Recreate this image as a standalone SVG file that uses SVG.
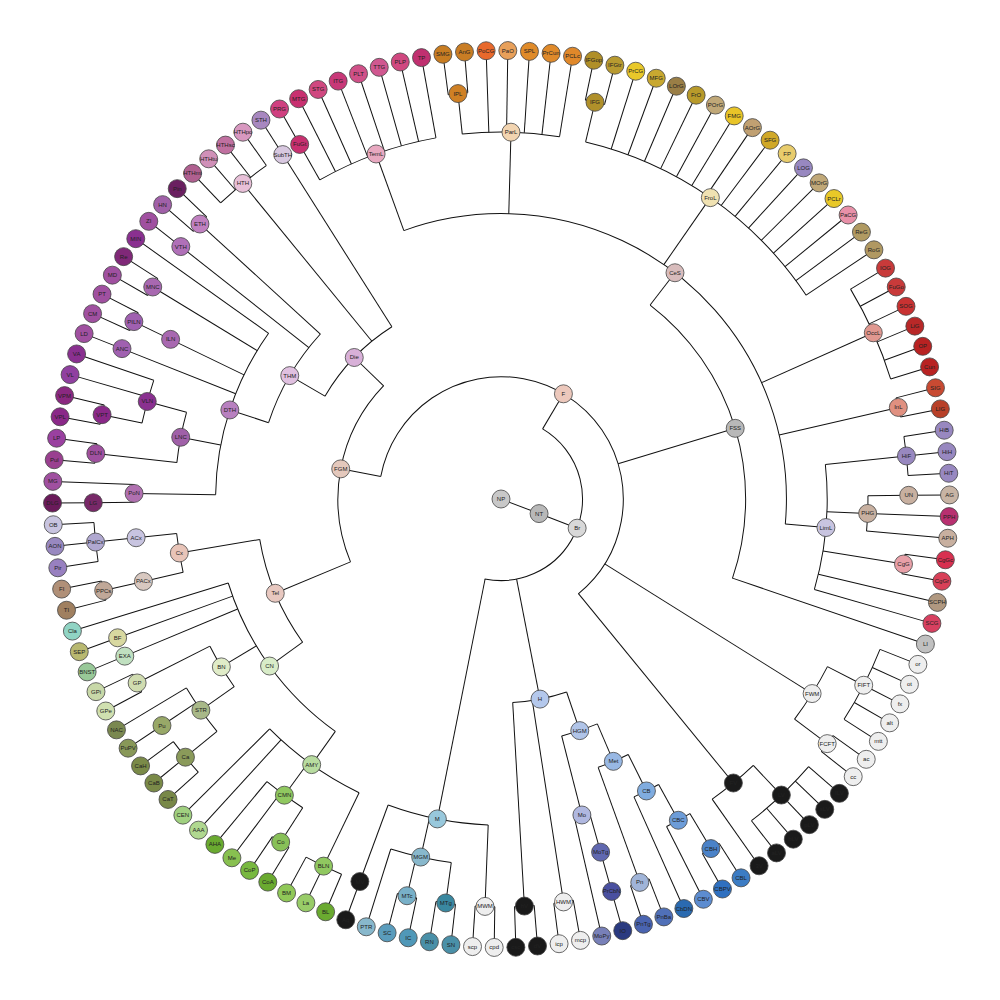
<svg xmlns="http://www.w3.org/2000/svg" width="1000" height="1000" viewBox="0 0 1000 1000">
<style>
.l line,.l circle{fill:none;stroke:#111;stroke-width:1}
.n circle{stroke:#444;stroke-width:0.8}
.n text{font-family:"Liberation Sans",Arial,sans-serif;font-size:6px;fill:#222;text-anchor:middle}
.k circle{fill:#1a1a1a}
.w circle{fill:#eeeeee}
</style>
<rect width="1000" height="1000" fill="#ffffff"/>
<g transform="translate(501,499)">
<g id="links" class="l">
<circle r="81.55" stroke-dasharray="228.53 3000" transform="rotate(-59.31)"/>
<circle r="122.32" stroke-dasharray="469.81 3000" transform="rotate(190.65)"/>
<circle r="163.09" stroke-dasharray="189.66 3000" transform="rotate(157.33)"/>
<circle r="244.64" stroke-dasharray="304.48 3000" transform="rotate(-52.44)"/>
<circle r="285.41" stroke-dasharray="572.46 3000" transform="rotate(-109.90)"/>
<circle r="244.64" stroke-dasharray="112.29 3000" transform="rotate(144.18)"/>
<circle r="203.86" stroke-dasharray="97.31 3000" transform="rotate(210.29)"/>
<circle r="203.86" stroke-dasharray="55.11 3000" transform="rotate(71.22)"/>
<circle r="326.18" stroke-dasharray="102.47 3000" transform="rotate(92.25)"/>
<circle r="244.64" stroke-dasharray="103.46 3000" transform="rotate(198.18)"/>
<circle r="285.41" stroke-dasharray="172.40 3000" transform="rotate(180.87)"/>
<circle r="285.41" stroke-dasharray="186.25 3000" transform="rotate(125.48)"/>
<circle r="244.64" stroke-dasharray="37.70 3000" transform="rotate(66.81)"/>
<circle r="285.41" stroke-dasharray="32.78 3000" transform="rotate(63.52)"/>
<circle r="366.95" stroke-dasharray="97.60 3000" transform="rotate(-96.06)"/>
<circle r="366.95" stroke-dasharray="274.88 3000" transform="rotate(-76.67)"/>
<circle r="366.95" stroke-dasharray="124.12 3000" transform="rotate(240.41)"/>
<circle r="366.95" stroke-dasharray="35.48 3000" transform="rotate(-0.52)"/>
<circle r="366.95" stroke-dasharray="62.06 3000" transform="rotate(27.18)"/>
<circle r="366.95" stroke-dasharray="53.22 3000" transform="rotate(46.56)"/>
<circle r="366.95" stroke-dasharray="44.38 3000" transform="rotate(122.71)"/>
<circle r="366.95" stroke-dasharray="53.22 3000" transform="rotate(140.71)"/>
<circle r="366.95" stroke-dasharray="44.38 3000" transform="rotate(191.94)"/>
<circle r="366.95" stroke-dasharray="26.64 3000" transform="rotate(59.02)"/>
<circle r="366.95" stroke-dasharray="62.06 3000" transform="rotate(97.79)"/>
<circle r="366.95" stroke-dasharray="17.74 3000" transform="rotate(179.48)"/>
<circle r="326.18" stroke-dasharray="126.15 3000" transform="rotate(-6.06)"/>
<circle r="326.18" stroke-dasharray="110.39 3000" transform="rotate(115.79)"/>
<circle r="326.18" stroke-dasharray="47.31 3000" transform="rotate(144.87)"/>
<circle r="326.18" stroke-dasharray="39.39 3000" transform="rotate(167.02)"/>
<circle r="326.18" stroke-dasharray="51.24 3000" transform="rotate(186.41)"/>
<circle r="326.18" stroke-dasharray="27.55 3000" transform="rotate(61.10)"/>
<circle r="326.18" stroke-dasharray="15.77 3000" transform="rotate(74.25)"/>
<circle r="407.73" stroke-dasharray="19.70 3000" transform="rotate(-97.44)"/>
<circle r="407.73" stroke-dasharray="19.70 3000" transform="rotate(-78.06)"/>
<circle r="407.73" stroke-dasharray="98.56 3000" transform="rotate(-30.98)"/>
<circle r="407.73" stroke-dasharray="19.70 3000" transform="rotate(-14.36)"/>
<circle r="407.73" stroke-dasharray="39.35 3000" transform="rotate(-8.82)"/>
<circle r="407.73" stroke-dasharray="19.70 3000" transform="rotate(7.79)"/>
<circle r="407.73" stroke-dasharray="78.78 3000" transform="rotate(21.64)"/>
<circle r="407.73" stroke-dasharray="19.70 3000" transform="rotate(35.48)"/>
<circle r="407.73" stroke-dasharray="78.85 3000" transform="rotate(41.02)"/>
<circle r="407.73" stroke-dasharray="39.42 3000" transform="rotate(113.02)"/>
<circle r="407.73" stroke-dasharray="19.70 3000" transform="rotate(121.33)"/>
<circle r="407.73" stroke-dasharray="39.42 3000" transform="rotate(137.94)"/>
<circle r="407.73" stroke-dasharray="19.70 3000" transform="rotate(151.79)"/>
<circle r="407.73" stroke-dasharray="19.70 3000" transform="rotate(165.64)"/>
<circle r="407.73" stroke-dasharray="39.35 3000" transform="rotate(171.18)"/>
<circle r="407.73" stroke-dasharray="19.70 3000" transform="rotate(185.02)"/>
<circle r="407.73" stroke-dasharray="19.70 3000" transform="rotate(190.56)"/>
<circle r="407.73" stroke-dasharray="19.70 3000" transform="rotate(204.41)"/>
<circle r="407.73" stroke-dasharray="19.70 3000" transform="rotate(209.94)"/>
<circle r="407.73" stroke-dasharray="19.70 3000" transform="rotate(221.02)"/>
<circle r="407.73" stroke-dasharray="59.14 3000" transform="rotate(226.56)"/>
<circle r="407.73" stroke-dasharray="19.70 3000" transform="rotate(57.64)"/>
<circle r="407.73" stroke-dasharray="19.70 3000" transform="rotate(68.71)"/>
<circle r="407.73" stroke-dasharray="19.70 3000" transform="rotate(79.79)"/>
<circle r="407.73" stroke-dasharray="19.70 3000" transform="rotate(85.33)"/>
<circle r="407.73" stroke-dasharray="19.70 3000" transform="rotate(90.87)"/>
<circle r="407.73" stroke-dasharray="19.70 3000" transform="rotate(96.41)"/>
<circle r="407.73" stroke-dasharray="19.70 3000" transform="rotate(101.94)"/>
<line x1="0" x2="40.77" transform="rotate(20.97)"/>
<line x1="40.77" x2="81.55" transform="rotate(20.97)"/>
<line x1="81.55" x2="122.32" transform="rotate(-59.31)"/>
<line x1="81.55" x2="203.86" transform="rotate(78.97)"/>
<line x1="81.55" x2="326.18" transform="rotate(101.25)"/>
<line x1="122.32" x2="163.09" transform="rotate(190.65)"/>
<line x1="122.32" x2="244.64" transform="rotate(-16.79)"/>
<line x1="122.32" x2="366.95" transform="rotate(32.02)"/>
<line x1="122.32" x2="366.95" transform="rotate(50.71)"/>
<line x1="163.09" x2="244.64" transform="rotate(157.33)"/>
<line x1="163.09" x2="203.86" transform="rotate(223.96)"/>
<line x1="244.64" x2="285.41" transform="rotate(-52.44)"/>
<line x1="244.64" x2="448.5" transform="rotate(18.87)"/>
<line x1="285.41" x2="366.95" transform="rotate(-109.90)"/>
<line x1="285.41" x2="366.95" transform="rotate(-88.44)"/>
<line x1="285.41" x2="366.95" transform="rotate(-55.21)"/>
<line x1="285.41" x2="407.73" transform="rotate(-24.06)"/>
<line x1="285.41" x2="407.73" transform="rotate(-12.98)"/>
<line x1="285.41" x2="326.18" transform="rotate(5.02)"/>
<line x1="366.95" x2="407.73" transform="rotate(-96.06)"/>
<line x1="366.95" x2="448.5" transform="rotate(-91.90)"/>
<line x1="366.95" x2="448.5" transform="rotate(-89.13)"/>
<line x1="366.95" x2="448.5" transform="rotate(-86.36)"/>
<line x1="366.95" x2="448.5" transform="rotate(-83.59)"/>
<line x1="366.95" x2="448.5" transform="rotate(-80.82)"/>
<line x1="407.73" x2="448.5" transform="rotate(-97.44)"/>
<line x1="407.73" x2="448.5" transform="rotate(-94.67)"/>
<line x1="366.95" x2="407.73" transform="rotate(-76.67)"/>
<line x1="366.95" x2="448.5" transform="rotate(-72.52)"/>
<line x1="366.95" x2="448.5" transform="rotate(-69.75)"/>
<line x1="366.95" x2="448.5" transform="rotate(-66.98)"/>
<line x1="366.95" x2="448.5" transform="rotate(-64.21)"/>
<line x1="366.95" x2="448.5" transform="rotate(-61.44)"/>
<line x1="366.95" x2="448.5" transform="rotate(-58.67)"/>
<line x1="366.95" x2="448.5" transform="rotate(-55.90)"/>
<line x1="366.95" x2="448.5" transform="rotate(-53.13)"/>
<line x1="366.95" x2="448.5" transform="rotate(-50.36)"/>
<line x1="366.95" x2="448.5" transform="rotate(-47.59)"/>
<line x1="366.95" x2="448.5" transform="rotate(-44.82)"/>
<line x1="366.95" x2="448.5" transform="rotate(-42.06)"/>
<line x1="366.95" x2="448.5" transform="rotate(-39.29)"/>
<line x1="366.95" x2="448.5" transform="rotate(-36.52)"/>
<line x1="366.95" x2="448.5" transform="rotate(-33.75)"/>
<line x1="407.73" x2="448.5" transform="rotate(-78.06)"/>
<line x1="407.73" x2="448.5" transform="rotate(-75.29)"/>
<line x1="407.73" x2="448.5" transform="rotate(-30.98)"/>
<line x1="407.73" x2="448.5" transform="rotate(-28.21)"/>
<line x1="407.73" x2="448.5" transform="rotate(-25.44)"/>
<line x1="407.73" x2="448.5" transform="rotate(-22.67)"/>
<line x1="407.73" x2="448.5" transform="rotate(-19.90)"/>
<line x1="407.73" x2="448.5" transform="rotate(-17.13)"/>
<line x1="407.73" x2="448.5" transform="rotate(-14.36)"/>
<line x1="407.73" x2="448.5" transform="rotate(-11.59)"/>
<line x1="326.18" x2="407.73" transform="rotate(-6.06)"/>
<line x1="326.18" x2="366.95" transform="rotate(2.25)"/>
<line x1="326.18" x2="407.73" transform="rotate(9.18)"/>
<line x1="326.18" x2="448.5" transform="rotate(13.33)"/>
<line x1="326.18" x2="448.5" transform="rotate(16.10)"/>
<line x1="407.73" x2="448.5" transform="rotate(-8.82)"/>
<line x1="407.73" x2="448.5" transform="rotate(-6.06)"/>
<line x1="407.73" x2="448.5" transform="rotate(-3.29)"/>
<line x1="366.95" x2="407.73" transform="rotate(-0.52)"/>
<line x1="366.95" x2="448.5" transform="rotate(2.25)"/>
<line x1="366.95" x2="448.5" transform="rotate(5.02)"/>
<line x1="407.73" x2="448.5" transform="rotate(-0.52)"/>
<line x1="407.73" x2="448.5" transform="rotate(7.79)"/>
<line x1="407.73" x2="448.5" transform="rotate(10.56)"/>
<line x1="366.95" x2="407.73" transform="rotate(240.41)"/>
<line x1="366.95" x2="448.5" transform="rotate(243.18)"/>
<line x1="366.95" x2="448.5" transform="rotate(245.94)"/>
<line x1="366.95" x2="448.5" transform="rotate(248.71)"/>
<line x1="366.95" x2="448.5" transform="rotate(251.48)"/>
<line x1="366.95" x2="448.5" transform="rotate(254.25)"/>
<line x1="366.95" x2="448.5" transform="rotate(257.02)"/>
<line x1="366.95" x2="448.5" transform="rotate(259.79)"/>
<line x1="407.73" x2="448.5" transform="rotate(240.41)"/>
<line x1="366.95" x2="407.73" transform="rotate(27.18)"/>
<line x1="366.95" x2="407.73" transform="rotate(36.87)"/>
<line x1="407.73" x2="448.5" transform="rotate(21.64)"/>
<line x1="407.73" x2="448.5" transform="rotate(24.41)"/>
<line x1="407.73" x2="448.5" transform="rotate(27.18)"/>
<line x1="407.73" x2="448.5" transform="rotate(29.94)"/>
<line x1="407.73" x2="448.5" transform="rotate(32.71)"/>
<line x1="407.73" x2="448.5" transform="rotate(35.48)"/>
<line x1="407.73" x2="448.5" transform="rotate(38.25)"/>
<line x1="366.95" x2="407.73" transform="rotate(46.56)"/>
<line x1="366.95" x2="448.5" transform="rotate(54.87)"/>
<line x1="407.73" x2="448.5" transform="rotate(41.02)"/>
<line x1="407.73" x2="448.5" transform="rotate(43.79)"/>
<line x1="407.73" x2="448.5" transform="rotate(46.56)"/>
<line x1="407.73" x2="448.5" transform="rotate(49.33)"/>
<line x1="407.73" x2="448.5" transform="rotate(52.10)"/>
<line x1="244.64" x2="285.41" transform="rotate(144.18)"/>
<line x1="244.64" x2="326.18" transform="rotate(170.48)"/>
<line x1="285.41" x2="326.18" transform="rotate(125.48)"/>
<line x1="285.41" x2="326.18" transform="rotate(149.02)"/>
<line x1="285.41" x2="407.73" transform="rotate(157.33)"/>
<line x1="285.41" x2="407.73" transform="rotate(160.10)"/>
<line x1="285.41" x2="448.5" transform="rotate(162.87)"/>
<line x1="326.18" x2="407.73" transform="rotate(115.79)"/>
<line x1="326.18" x2="366.95" transform="rotate(126.18)"/>
<line x1="326.18" x2="448.5" transform="rotate(132.41)"/>
<line x1="326.18" x2="448.5" transform="rotate(135.18)"/>
<line x1="407.73" x2="448.5" transform="rotate(113.02)"/>
<line x1="407.73" x2="448.5" transform="rotate(115.79)"/>
<line x1="407.73" x2="448.5" transform="rotate(118.56)"/>
<line x1="366.95" x2="407.73" transform="rotate(122.71)"/>
<line x1="366.95" x2="448.5" transform="rotate(126.87)"/>
<line x1="366.95" x2="448.5" transform="rotate(129.64)"/>
<line x1="407.73" x2="448.5" transform="rotate(121.33)"/>
<line x1="407.73" x2="448.5" transform="rotate(124.10)"/>
<line x1="326.18" x2="366.95" transform="rotate(144.87)"/>
<line x1="326.18" x2="407.73" transform="rotate(153.18)"/>
<line x1="366.95" x2="407.73" transform="rotate(140.71)"/>
<line x1="366.95" x2="407.73" transform="rotate(146.25)"/>
<line x1="366.95" x2="448.5" transform="rotate(149.02)"/>
<line x1="407.73" x2="448.5" transform="rotate(137.94)"/>
<line x1="407.73" x2="448.5" transform="rotate(140.71)"/>
<line x1="407.73" x2="448.5" transform="rotate(143.48)"/>
<line x1="407.73" x2="448.5" transform="rotate(146.25)"/>
<line x1="407.73" x2="448.5" transform="rotate(151.79)"/>
<line x1="407.73" x2="448.5" transform="rotate(154.56)"/>
<line x1="407.73" x2="448.5" transform="rotate(157.33)"/>
<line x1="407.73" x2="448.5" transform="rotate(160.10)"/>
<line x1="326.18" x2="366.95" transform="rotate(167.02)"/>
<line x1="326.18" x2="366.95" transform="rotate(173.94)"/>
<line x1="366.95" x2="407.73" transform="rotate(167.02)"/>
<line x1="407.73" x2="448.5" transform="rotate(165.64)"/>
<line x1="407.73" x2="448.5" transform="rotate(168.41)"/>
<line x1="366.95" x2="407.73" transform="rotate(173.94)"/>
<line x1="407.73" x2="448.5" transform="rotate(171.18)"/>
<line x1="407.73" x2="448.5" transform="rotate(173.94)"/>
<line x1="407.73" x2="448.5" transform="rotate(176.71)"/>
<line x1="203.86" x2="244.64" transform="rotate(210.29)"/>
<line x1="203.86" x2="407.73" transform="rotate(230.71)"/>
<line x1="203.86" x2="407.73" transform="rotate(237.64)"/>
<line x1="244.64" x2="285.41" transform="rotate(198.18)"/>
<line x1="244.64" x2="407.73" transform="rotate(218.25)"/>
<line x1="244.64" x2="407.73" transform="rotate(222.41)"/>
<line x1="285.41" x2="366.95" transform="rotate(180.87)"/>
<line x1="285.41" x2="326.18" transform="rotate(190.91)"/>
<line x1="285.41" x2="407.73" transform="rotate(201.64)"/>
<line x1="285.41" x2="366.95" transform="rotate(205.79)"/>
<line x1="285.41" x2="407.73" transform="rotate(211.33)"/>
<line x1="285.41" x2="448.5" transform="rotate(215.48)"/>
<line x1="366.95" x2="407.73" transform="rotate(179.48)"/>
<line x1="366.95" x2="448.5" transform="rotate(182.25)"/>
<line x1="407.73" x2="448.5" transform="rotate(179.48)"/>
<line x1="326.18" x2="407.73" transform="rotate(186.41)"/>
<line x1="326.18" x2="366.95" transform="rotate(195.41)"/>
<line x1="407.73" x2="448.5" transform="rotate(185.02)"/>
<line x1="407.73" x2="448.5" transform="rotate(187.79)"/>
<line x1="366.95" x2="407.73" transform="rotate(191.94)"/>
<line x1="366.95" x2="448.5" transform="rotate(196.10)"/>
<line x1="366.95" x2="448.5" transform="rotate(198.87)"/>
<line x1="407.73" x2="448.5" transform="rotate(190.56)"/>
<line x1="407.73" x2="448.5" transform="rotate(193.33)"/>
<line x1="407.73" x2="448.5" transform="rotate(201.64)"/>
<line x1="366.95" x2="407.73" transform="rotate(205.79)"/>
<line x1="407.73" x2="448.5" transform="rotate(204.41)"/>
<line x1="407.73" x2="448.5" transform="rotate(207.18)"/>
<line x1="407.73" x2="448.5" transform="rotate(209.94)"/>
<line x1="407.73" x2="448.5" transform="rotate(212.71)"/>
<line x1="407.73" x2="448.5" transform="rotate(218.25)"/>
<line x1="407.73" x2="448.5" transform="rotate(221.02)"/>
<line x1="407.73" x2="448.5" transform="rotate(223.79)"/>
<line x1="407.73" x2="448.5" transform="rotate(226.56)"/>
<line x1="407.73" x2="448.5" transform="rotate(229.33)"/>
<line x1="407.73" x2="448.5" transform="rotate(232.10)"/>
<line x1="407.73" x2="448.5" transform="rotate(234.87)"/>
<line x1="407.73" x2="448.5" transform="rotate(237.64)"/>
<line x1="203.86" x2="244.64" transform="rotate(71.22)"/>
<line x1="203.86" x2="407.73" transform="rotate(81.18)"/>
<line x1="203.86" x2="407.73" transform="rotate(86.71)"/>
<line x1="244.64" x2="285.41" transform="rotate(66.81)"/>
<line x1="244.64" x2="326.18" transform="rotate(75.64)"/>
<line x1="285.41" x2="326.18" transform="rotate(63.52)"/>
<line x1="285.41" x2="407.73" transform="rotate(70.10)"/>
<line x1="326.18" x2="366.95" transform="rotate(61.10)"/>
<line x1="326.18" x2="448.5" transform="rotate(65.94)"/>
<line x1="366.95" x2="407.73" transform="rotate(59.02)"/>
<line x1="366.95" x2="448.5" transform="rotate(63.18)"/>
<line x1="407.73" x2="448.5" transform="rotate(57.64)"/>
<line x1="407.73" x2="448.5" transform="rotate(60.41)"/>
<line x1="407.73" x2="448.5" transform="rotate(68.71)"/>
<line x1="407.73" x2="448.5" transform="rotate(71.48)"/>
<line x1="326.18" x2="366.95" transform="rotate(74.25)"/>
<line x1="326.18" x2="448.5" transform="rotate(77.02)"/>
<line x1="366.95" x2="407.73" transform="rotate(74.25)"/>
<line x1="407.73" x2="448.5" transform="rotate(74.25)"/>
<line x1="407.73" x2="448.5" transform="rotate(79.79)"/>
<line x1="407.73" x2="448.5" transform="rotate(82.56)"/>
<line x1="407.73" x2="448.5" transform="rotate(85.33)"/>
<line x1="407.73" x2="448.5" transform="rotate(88.10)"/>
<line x1="326.18" x2="407.73" transform="rotate(92.25)"/>
<line x1="326.18" x2="366.95" transform="rotate(102.64)"/>
<line x1="326.18" x2="407.73" transform="rotate(110.25)"/>
<line x1="407.73" x2="448.5" transform="rotate(90.87)"/>
<line x1="407.73" x2="448.5" transform="rotate(93.64)"/>
<line x1="366.95" x2="407.73" transform="rotate(97.79)"/>
<line x1="366.95" x2="407.73" transform="rotate(103.33)"/>
<line x1="366.95" x2="448.5" transform="rotate(107.48)"/>
<line x1="407.73" x2="448.5" transform="rotate(96.41)"/>
<line x1="407.73" x2="448.5" transform="rotate(99.18)"/>
<line x1="407.73" x2="448.5" transform="rotate(101.94)"/>
<line x1="407.73" x2="448.5" transform="rotate(104.71)"/>
<line x1="407.73" x2="448.5" transform="rotate(110.25)"/>
</g>
<g id="nodes">
<g id="n-NP" class="n"><circle r="9" fill="#c8c8c8"/><text dy="2">NP</text></g>
<g id="n-NT" class="n" transform="rotate(20.97)translate(40.77)rotate(-20.97)"><circle r="9" fill="#b8b8b8"/><text dy="2">NT</text></g>
<g id="n-Br" class="n" transform="rotate(20.97)translate(81.55)rotate(-20.97)"><circle r="9" fill="#d8d8d8"/><text dy="2">Br</text></g>
<g id="n-F" class="n" transform="rotate(-59.31)translate(122.32)rotate(59.31)"><circle r="9" fill="#ecc8bc"/><text dy="2">F</text></g>
<g id="n-FGM" class="n" transform="rotate(190.65)translate(163.09)rotate(-190.65)"><circle r="9" fill="#e4c8bc"/><text dy="2">FGM</text></g>
<g id="n-FSS" class="n" transform="rotate(-16.79)translate(244.64)rotate(16.79)"><circle r="9" fill="#b8b8b8"/><text dy="2">FSS</text></g>
<g id="n-CeS" class="n" transform="rotate(-52.44)translate(285.41)rotate(52.44)"><circle r="9" fill="#d8bcbc"/><text dy="2">CeS</text></g>
<g id="n-Die" class="n" transform="rotate(223.96)translate(203.86)rotate(-223.96)"><circle r="9" fill="#d8b0d8"/><text dy="2">Die</text></g>
<g id="n-Tel" class="n" transform="rotate(157.33)translate(244.64)rotate(-157.33)"><circle r="9" fill="#e8c8c0"/><text dy="2">Tel</text></g>
<g id="n-H" class="n" transform="rotate(78.97)translate(203.86)rotate(-78.97)"><circle r="9" fill="#b4c8ec"/><text dy="2">H</text></g>
<g id="n-M" class="n" transform="rotate(101.25)translate(326.18)rotate(-101.25)"><circle r="9" fill="#98c8dc"/><text dy="2">M</text></g>
<g id="n-THM" class="n" transform="rotate(210.29)translate(244.64)rotate(-210.29)"><circle r="9" fill="#e0c0e0"/><text dy="2">THM</text></g>
<g id="n-DTH" class="n" transform="rotate(198.18)translate(285.41)rotate(-198.18)"><circle r="9" fill="#b880c0"/><text dy="2">DTH</text></g>
<g id="n-CN" class="n" transform="rotate(144.18)translate(285.41)rotate(-144.18)"><circle r="9" fill="#d8ecc8"/><text dy="2">CN</text></g>
<g id="n-HGM" class="n" transform="rotate(71.22)translate(244.64)rotate(-71.22)"><circle r="9" fill="#b0c4e8"/><text dy="2">HGM</text></g>
<g id="n-Met" class="n" transform="rotate(66.81)translate(285.41)rotate(-66.81)"><circle r="9" fill="#98b8e4"/><text dy="2">Met</text></g>
<g id="n-ParL" class="n" transform="rotate(-88.44)translate(366.95)rotate(88.44)"><circle r="9" fill="#f2d4b0"/><text dy="2">ParL</text></g>
<g id="n-FroL" class="n" transform="rotate(-55.21)translate(366.95)rotate(55.21)"><circle r="9" fill="#f0e2b2"/><text dy="2">FroL</text></g>
<g id="n-TemL" class="n" transform="rotate(250.10)translate(366.95)rotate(-250.10)"><circle r="9" fill="#e8a8c0"/><text dy="2">TemL</text></g>
<g id="n-PHG" class="n" transform="rotate(2.25)translate(366.95)rotate(-2.25)"><circle r="9" fill="#c8b0a0"/><text dy="2">PHG</text></g>
<g id="n-FWM" class="n w" transform="rotate(32.02)translate(366.95)rotate(-32.02)"><circle r="9"/><text dy="2">FWM</text></g>
<g id="n-FV" class="n k" transform="rotate(50.71)translate(366.95)rotate(-50.71)"><circle r="9"/><text dy="2">FV</text></g>
<g id="n-CMN" class="n" transform="rotate(126.18)translate(366.95)rotate(-126.18)"><circle r="9" fill="#90c860"/><text dy="2">CMN</text></g>
<g id="n-STR" class="n" transform="rotate(144.87)translate(366.95)rotate(-144.87)"><circle r="9" fill="#a8b888"/><text dy="2">STR</text></g>
<g id="n-VLN" class="n" transform="rotate(195.41)translate(366.95)rotate(-195.41)"><circle r="9" fill="#8a3090"/><text dy="2">VLN</text></g>
<g id="n-CBC" class="n" transform="rotate(61.10)translate(366.95)rotate(-61.10)"><circle r="9" fill="#6c9cd8"/><text dy="2">CBC</text></g>
<g id="n-MGM" class="n" transform="rotate(102.64)translate(366.95)rotate(-102.64)"><circle r="9" fill="#88b8cc"/><text dy="2">MGM</text></g>
<g id="n-PoN" class="n" transform="rotate(180.87)translate(366.95)rotate(-180.87)"><circle r="9" fill="#b070b0"/><text dy="2">PoN</text></g>
<g id="n-ILN" class="n" transform="rotate(205.79)translate(366.95)rotate(-205.79)"><circle r="9" fill="#a868b0"/><text dy="2">ILN</text></g>
<g id="n-PACx" class="n" transform="rotate(167.02)translate(366.95)rotate(-167.02)"><circle r="9" fill="#d8c8c0"/><text dy="2">PACx</text></g>
<g id="n-ACx" class="n" transform="rotate(173.94)translate(366.95)rotate(-173.94)"><circle r="9" fill="#c8c4e0"/><text dy="2">ACx</text></g>
<g id="n-MoTg" class="n" transform="rotate(74.25)translate(366.95)rotate(-74.25)"><circle r="9" fill="#6068b0"/><text dy="2">MoTg</text></g>
<g id="n-LimL" class="n" transform="rotate(5.02)translate(326.18)rotate(-5.02)"><circle r="9" fill="#c8c4e0"/><text dy="2">LimL</text></g>
<g id="n-AMY" class="n" transform="rotate(125.48)translate(326.18)rotate(-125.48)"><circle r="9" fill="#b8dca0"/><text dy="2">AMY</text></g>
<g id="n-BN" class="n" transform="rotate(149.02)translate(326.18)rotate(-149.02)"><circle r="9" fill="#e0ecc8"/><text dy="2">BN</text></g>
<g id="n-Cx" class="n" transform="rotate(170.48)translate(326.18)rotate(-170.48)"><circle r="9" fill="#e8c4b8"/><text dy="2">Cx</text></g>
<g id="n-LNC" class="n" transform="rotate(190.91)translate(326.18)rotate(-190.91)"><circle r="9" fill="#a060a8"/><text dy="2">LNC</text></g>
<g id="n-CB" class="n" transform="rotate(63.52)translate(326.18)rotate(-63.52)"><circle r="9" fill="#80acdf"/><text dy="2">CB</text></g>
<g id="n-Mo" class="n" transform="rotate(75.64)translate(326.18)rotate(-75.64)"><circle r="9" fill="#b0b8e0"/><text dy="2">Mo</text></g>
<g id="n-IPL" class="n" transform="rotate(-96.06)translate(407.73)rotate(96.06)"><circle r="9" fill="#cf8024"/><text dy="2">IPL</text></g>
<g id="n-IFG" class="n" transform="rotate(-76.67)translate(407.73)rotate(76.67)"><circle r="9" fill="#b0902a"/><text dy="2">IFG</text></g>
<g id="n-OccL" class="n" transform="rotate(-24.06)translate(407.73)rotate(24.06)"><circle r="9" fill="#e09890"/><text dy="2">OccL</text></g>
<g id="n-InL" class="n" transform="rotate(-12.98)translate(407.73)rotate(12.98)"><circle r="9" fill="#e09080"/><text dy="2">InL</text></g>
<g id="n-HiF" class="n" transform="rotate(-6.06)translate(407.73)rotate(6.06)"><circle r="9" fill="#9888c0"/><text dy="2">HiF</text></g>
<g id="n-UN" class="n" transform="rotate(-0.52)translate(407.73)rotate(0.52)"><circle r="9" fill="#c8b0a0"/><text dy="2">UN</text></g>
<g id="n-CgG" class="n" transform="rotate(9.18)translate(407.73)rotate(-9.18)"><circle r="9" fill="#e8a0a8"/><text dy="2">CgG</text></g>
<g id="n-FuGt" class="n" transform="rotate(240.41)translate(407.73)rotate(-240.41)"><circle r="9" fill="#c83070"/><text dy="2">FuGt</text></g>
<g id="n-FIFT" class="n w" transform="rotate(27.18)translate(407.73)rotate(-27.18)"><circle r="9"/><text dy="2">FIFT</text></g>
<g id="n-FCFT" class="n w" transform="rotate(36.87)translate(407.73)rotate(-36.87)"><circle r="9"/><text dy="2">FCFT</text></g>
<g id="n-LV" class="n k" transform="rotate(46.56)translate(407.73)rotate(-46.56)"><circle r="9"/><text dy="2">LV</text></g>
<g id="n-BLN" class="n" transform="rotate(115.79)translate(407.73)rotate(-115.79)"><circle r="9" fill="#90c860"/><text dy="2">BLN</text></g>
<g id="n-Co" class="n" transform="rotate(122.71)translate(407.73)rotate(-122.71)"><circle r="9" fill="#88c058"/><text dy="2">Co</text></g>
<g id="n-Ca" class="n" transform="rotate(140.71)translate(407.73)rotate(-140.71)"><circle r="9" fill="#8a9a5a"/><text dy="2">Ca</text></g>
<g id="n-Pu" class="n" transform="rotate(146.25)translate(407.73)rotate(-146.25)"><circle r="9" fill="#98a868"/><text dy="2">Pu</text></g>
<g id="n-GP" class="n" transform="rotate(153.18)translate(407.73)rotate(-153.18)"><circle r="9" fill="#d0dcb0"/><text dy="2">GP</text></g>
<g id="n-EXA" class="n" transform="rotate(157.33)translate(407.73)rotate(-157.33)"><circle r="9" fill="#c0e0c0"/><text dy="2">EXA</text></g>
<g id="n-BF" class="n" transform="rotate(160.10)translate(407.73)rotate(-160.10)"><circle r="9" fill="#d8d8a0"/><text dy="2">BF</text></g>
<g id="n-PPCs" class="n" transform="rotate(167.02)translate(407.73)rotate(-167.02)"><circle r="9" fill="#c0a898"/><text dy="2">PPCs</text></g>
<g id="n-PalCx" class="n" transform="rotate(173.94)translate(407.73)rotate(-173.94)"><circle r="9" fill="#b0a8d0"/><text dy="2">PalCx</text></g>
<g id="n-LG" class="n" transform="rotate(179.48)translate(407.73)rotate(-179.48)"><circle r="9" fill="#782868"/><text dy="2">LG</text></g>
<g id="n-DLN" class="n" transform="rotate(186.41)translate(407.73)rotate(-186.41)"><circle r="9" fill="#a050a0"/><text dy="2">DLN</text></g>
<g id="n-VPT" class="n" transform="rotate(191.94)translate(407.73)rotate(-191.94)"><circle r="9" fill="#8a2888"/><text dy="2">VPT</text></g>
<g id="n-ANC" class="n" transform="rotate(201.64)translate(407.73)rotate(-201.64)"><circle r="9" fill="#a060b0"/><text dy="2">ANC</text></g>
<g id="n-PILN" class="n" transform="rotate(205.79)translate(407.73)rotate(-205.79)"><circle r="9" fill="#a060b0"/><text dy="2">PILN</text></g>
<g id="n-MNC" class="n" transform="rotate(211.33)translate(407.73)rotate(-211.33)"><circle r="9" fill="#a868b0"/><text dy="2">MNC</text></g>
<g id="n-VTH" class="n" transform="rotate(218.25)translate(407.73)rotate(-218.25)"><circle r="9" fill="#b070b8"/><text dy="2">VTH</text></g>
<g id="n-ETH" class="n" transform="rotate(222.41)translate(407.73)rotate(-222.41)"><circle r="9" fill="#c080c0"/><text dy="2">ETH</text></g>
<g id="n-HTH" class="n" transform="rotate(230.71)translate(407.73)rotate(-230.71)"><circle r="9" fill="#e8c0d8"/><text dy="2">HTH</text></g>
<g id="n-SubTH" class="n" transform="rotate(237.64)translate(407.73)rotate(-237.64)"><circle r="9" fill="#d8c8e0"/><text dy="2">SubTH</text></g>
<g id="n-CBH" class="n" transform="rotate(59.02)translate(407.73)rotate(-59.02)"><circle r="9" fill="#4a82c8"/><text dy="2">CBH</text></g>
<g id="n-Pn" class="n" transform="rotate(70.10)translate(407.73)rotate(-70.10)"><circle r="9" fill="#a0b4d8"/><text dy="2">Pn</text></g>
<g id="n-PrCbN" class="n" transform="rotate(74.25)translate(407.73)rotate(-74.25)"><circle r="9" fill="#4a50a0"/><text dy="2">PrCbN</text></g>
<g id="n-HWM" class="n w" transform="rotate(81.18)translate(407.73)rotate(-81.18)"><circle r="9"/><text dy="2">HWM</text></g>
<g id="n-hV" class="n k" transform="rotate(86.71)translate(407.73)rotate(-86.71)"><circle r="9"/><text dy="2">hV</text></g>
<g id="n-MWM" class="n w" transform="rotate(92.25)translate(407.73)rotate(-92.25)"><circle r="9"/><text dy="2">MWM</text></g>
<g id="n-MTg" class="n" transform="rotate(97.79)translate(407.73)rotate(-97.79)"><circle r="9" fill="#3a88a0"/><text dy="2">MTg</text></g>
<g id="n-MTc" class="n" transform="rotate(103.33)translate(407.73)rotate(-103.33)"><circle r="9" fill="#78b0c8"/><text dy="2">MTc</text></g>
<g id="n-MV" class="n k" transform="rotate(110.25)translate(407.73)rotate(-110.25)"><circle r="9"/><text dy="2">MV</text></g>
<g id="n-SMG" class="n" transform="rotate(-97.44)translate(448.5)rotate(97.44)"><circle r="9" fill="#c87d22"/><text dy="2">SMG</text></g>
<g id="n-AnG" class="n" transform="rotate(-94.67)translate(448.5)rotate(94.67)"><circle r="9" fill="#c97d24"/><text dy="2">AnG</text></g>
<g id="n-PoCG" class="n" transform="rotate(-91.90)translate(448.5)rotate(91.90)"><circle r="9" fill="#e8692c"/><text dy="2">PoCG</text></g>
<g id="n-PaO" class="n" transform="rotate(-89.13)translate(448.5)rotate(89.13)"><circle r="9" fill="#e8a05a"/><text dy="2">PaO</text></g>
<g id="n-SPL" class="n" transform="rotate(-86.36)translate(448.5)rotate(86.36)"><circle r="9" fill="#e08b2a"/><text dy="2">SPL</text></g>
<g id="n-PrCun" class="n" transform="rotate(-83.59)translate(448.5)rotate(83.59)"><circle r="9" fill="#e08a2a"/><text dy="2">PrCun</text></g>
<g id="n-PCLc" class="n" transform="rotate(-80.82)translate(448.5)rotate(80.82)"><circle r="9" fill="#e0882a"/><text dy="2">PCLc</text></g>
<g id="n-IFGop" class="n" transform="rotate(-78.06)translate(448.5)rotate(78.06)"><circle r="9" fill="#b08f28"/><text dy="2">IFGop</text></g>
<g id="n-IFGtr" class="n" transform="rotate(-75.29)translate(448.5)rotate(75.29)"><circle r="9" fill="#b89a30"/><text dy="2">IFGtr</text></g>
<g id="n-PrCG" class="n" transform="rotate(-72.52)translate(448.5)rotate(72.52)"><circle r="9" fill="#e8c82a"/><text dy="2">PrCG</text></g>
<g id="n-MFG" class="n" transform="rotate(-69.75)translate(448.5)rotate(69.75)"><circle r="9" fill="#c8a830"/><text dy="2">MFG</text></g>
<g id="n-LOrG" class="n" transform="rotate(-66.98)translate(448.5)rotate(66.98)"><circle r="9" fill="#9a7e46"/><text dy="2">LOrG</text></g>
<g id="n-FrO" class="n" transform="rotate(-64.21)translate(448.5)rotate(64.21)"><circle r="9" fill="#b89a2a"/><text dy="2">FrO</text></g>
<g id="n-POrG" class="n" transform="rotate(-61.44)translate(448.5)rotate(61.44)"><circle r="9" fill="#c0a878"/><text dy="2">POrG</text></g>
<g id="n-FMG" class="n" transform="rotate(-58.67)translate(448.5)rotate(58.67)"><circle r="9" fill="#e8c428"/><text dy="2">FMG</text></g>
<g id="n-AOrG" class="n" transform="rotate(-55.90)translate(448.5)rotate(55.90)"><circle r="9" fill="#c0a072"/><text dy="2">AOrG</text></g>
<g id="n-SFG" class="n" transform="rotate(-53.13)translate(448.5)rotate(53.13)"><circle r="9" fill="#d0a828"/><text dy="2">SFG</text></g>
<g id="n-FP" class="n" transform="rotate(-50.36)translate(448.5)rotate(50.36)"><circle r="9" fill="#e8cc6c"/><text dy="2">FP</text></g>
<g id="n-LOG" class="n" transform="rotate(-47.59)translate(448.5)rotate(47.59)"><circle r="9" fill="#9888c0"/><text dy="2">LOG</text></g>
<g id="n-MOrG" class="n" transform="rotate(-44.82)translate(448.5)rotate(44.82)"><circle r="9" fill="#c0a878"/><text dy="2">MOrG</text></g>
<g id="n-PCLr" class="n" transform="rotate(-42.06)translate(448.5)rotate(42.06)"><circle r="9" fill="#e8c828"/><text dy="2">PCLr</text></g>
<g id="n-PaCG" class="n" transform="rotate(-39.29)translate(448.5)rotate(39.29)"><circle r="9" fill="#e890a8"/><text dy="2">PaCG</text></g>
<g id="n-ReG" class="n" transform="rotate(-36.52)translate(448.5)rotate(36.52)"><circle r="9" fill="#b09a62"/><text dy="2">ReG</text></g>
<g id="n-RoG" class="n" transform="rotate(-33.75)translate(448.5)rotate(33.75)"><circle r="9" fill="#b09862"/><text dy="2">RoG</text></g>
<g id="n-IOG" class="n" transform="rotate(-30.98)translate(448.5)rotate(30.98)"><circle r="9" fill="#c83a3a"/><text dy="2">IOG</text></g>
<g id="n-FuGo" class="n" transform="rotate(-28.21)translate(448.5)rotate(28.21)"><circle r="9" fill="#c83a3a"/><text dy="2">FuGo</text></g>
<g id="n-SOG" class="n" transform="rotate(-25.44)translate(448.5)rotate(25.44)"><circle r="9" fill="#c83232"/><text dy="2">SOG</text></g>
<g id="n-LiG" class="n" transform="rotate(-22.67)translate(448.5)rotate(22.67)"><circle r="9" fill="#b82828"/><text dy="2">LiG</text></g>
<g id="n-OP" class="n" transform="rotate(-19.90)translate(448.5)rotate(19.90)"><circle r="9" fill="#b82222"/><text dy="2">OP</text></g>
<g id="n-Cun" class="n" transform="rotate(-17.13)translate(448.5)rotate(17.13)"><circle r="9" fill="#b82222"/><text dy="2">Cun</text></g>
<g id="n-SIG" class="n" transform="rotate(-14.36)translate(448.5)rotate(14.36)"><circle r="9" fill="#c84a32"/><text dy="2">SIG</text></g>
<g id="n-LIG" class="n" transform="rotate(-11.59)translate(448.5)rotate(11.59)"><circle r="9" fill="#b84028"/><text dy="2">LIG</text></g>
<g id="n-HiB" class="n" transform="rotate(-8.82)translate(448.5)rotate(8.82)"><circle r="9" fill="#9888c0"/><text dy="2">HiB</text></g>
<g id="n-HiH" class="n" transform="rotate(-6.06)translate(448.5)rotate(6.06)"><circle r="9" fill="#9888c0"/><text dy="2">HiH</text></g>
<g id="n-HiT" class="n" transform="rotate(-3.29)translate(448.5)rotate(3.29)"><circle r="9" fill="#9888c0"/><text dy="2">HiT</text></g>
<g id="n-AG" class="n" transform="rotate(-0.52)translate(448.5)rotate(0.52)"><circle r="9" fill="#c8b4a4"/><text dy="2">AG</text></g>
<g id="n-PPH" class="n" transform="rotate(2.25)translate(448.5)rotate(-2.25)"><circle r="9" fill="#b83070"/><text dy="2">PPH</text></g>
<g id="n-APH" class="n" transform="rotate(5.02)translate(448.5)rotate(-5.02)"><circle r="9" fill="#c8b0a0"/><text dy="2">APH</text></g>
<g id="n-CgGc" class="n" transform="rotate(7.79)translate(448.5)rotate(-7.79)"><circle r="9" fill="#d83050"/><text dy="2">CgGc</text></g>
<g id="n-CgGr" class="n" transform="rotate(10.56)translate(448.5)rotate(-10.56)"><circle r="9" fill="#d84058"/><text dy="2">CgGr</text></g>
<g id="n-SCPH" class="n" transform="rotate(13.33)translate(448.5)rotate(-13.33)"><circle r="9" fill="#b09880"/><text dy="2">SCPH</text></g>
<g id="n-SCG" class="n" transform="rotate(16.10)translate(448.5)rotate(-16.10)"><circle r="9" fill="#d84060"/><text dy="2">SCG</text></g>
<g id="n-LI" class="n" transform="rotate(18.87)translate(448.5)rotate(-18.87)"><circle r="9" fill="#c0c0c0"/><text dy="2">LI</text></g>
<g id="n-or" class="n w" transform="rotate(21.64)translate(448.5)rotate(-21.64)"><circle r="9"/><text dy="2">or</text></g>
<g id="n-ot" class="n w" transform="rotate(24.41)translate(448.5)rotate(-24.41)"><circle r="9"/><text dy="2">ot</text></g>
<g id="n-fx" class="n w" transform="rotate(27.18)translate(448.5)rotate(-27.18)"><circle r="9"/><text dy="2">fx</text></g>
<g id="n-alt" class="n w" transform="rotate(29.94)translate(448.5)rotate(-29.94)"><circle r="9"/><text dy="2">alt</text></g>
<g id="n-mtt" class="n w" transform="rotate(32.71)translate(448.5)rotate(-32.71)"><circle r="9"/><text dy="2">mtt</text></g>
<g id="n-ac" class="n w" transform="rotate(35.48)translate(448.5)rotate(-35.48)"><circle r="9"/><text dy="2">ac</text></g>
<g id="n-cc" class="n w" transform="rotate(38.25)translate(448.5)rotate(-38.25)"><circle r="9"/><text dy="2">cc</text></g>
<g id="n-ILV" class="n k" transform="rotate(41.02)translate(448.5)rotate(-41.02)"><circle r="9"/><text dy="2">ILV</text></g>
<g id="n-sLV" class="n k" transform="rotate(43.79)translate(448.5)rotate(-43.79)"><circle r="9"/><text dy="2">sLV</text></g>
<g id="n-pLV" class="n k" transform="rotate(46.56)translate(448.5)rotate(-46.56)"><circle r="9"/><text dy="2">pLV</text></g>
<g id="n-bLV" class="n k" transform="rotate(49.33)translate(448.5)rotate(-49.33)"><circle r="9"/><text dy="2">bLV</text></g>
<g id="n-aLV" class="n k" transform="rotate(52.10)translate(448.5)rotate(-52.10)"><circle r="9"/><text dy="2">aLV</text></g>
<g id="n-3V" class="n k" transform="rotate(54.87)translate(448.5)rotate(-54.87)"><circle r="9"/><text dy="2">3V</text></g>
<g id="n-CBL" class="n" transform="rotate(57.64)translate(448.5)rotate(-57.64)"><circle r="9" fill="#3c7cc4"/><text dy="2">CBL</text></g>
<g id="n-CBPV" class="n" transform="rotate(60.41)translate(448.5)rotate(-60.41)"><circle r="9" fill="#2f70c0"/><text dy="2">CBPV</text></g>
<g id="n-CBV" class="n" transform="rotate(63.18)translate(448.5)rotate(-63.18)"><circle r="9" fill="#5c8cd0"/><text dy="2">CBV</text></g>
<g id="n-CbDN" class="n" transform="rotate(65.94)translate(448.5)rotate(-65.94)"><circle r="9" fill="#2a6ab0"/><text dy="2">CbDN</text></g>
<g id="n-PnBa" class="n" transform="rotate(68.71)translate(448.5)rotate(-68.71)"><circle r="9" fill="#5070b8"/><text dy="2">PnBa</text></g>
<g id="n-PnTg" class="n" transform="rotate(71.48)translate(448.5)rotate(-71.48)"><circle r="9" fill="#4a64b0"/><text dy="2">PnTg</text></g>
<g id="n-IO" class="n" transform="rotate(74.25)translate(448.5)rotate(-74.25)"><circle r="9" fill="#2a3a80"/><text dy="2">IO</text></g>
<g id="n-MoPy" class="n" transform="rotate(77.02)translate(448.5)rotate(-77.02)"><circle r="9" fill="#7880b8"/><text dy="2">MoPy</text></g>
<g id="n-mcp" class="n w" transform="rotate(79.79)translate(448.5)rotate(-79.79)"><circle r="9"/><text dy="2">mcp</text></g>
<g id="n-icp" class="n w" transform="rotate(82.56)translate(448.5)rotate(-82.56)"><circle r="9"/><text dy="2">icp</text></g>
<g id="n-dV" class="n k" transform="rotate(85.33)translate(448.5)rotate(-85.33)"><circle r="9"/><text dy="2">dV</text></g>
<g id="n-csc" class="n k" transform="rotate(88.10)translate(448.5)rotate(-88.10)"><circle r="9"/><text dy="2">csc</text></g>
<g id="n-cpd" class="n w" transform="rotate(90.87)translate(448.5)rotate(-90.87)"><circle r="9"/><text dy="2">cpd</text></g>
<g id="n-scp" class="n w" transform="rotate(93.64)translate(448.5)rotate(-93.64)"><circle r="9"/><text dy="2">scp</text></g>
<g id="n-SN" class="n" transform="rotate(96.41)translate(448.5)rotate(-96.41)"><circle r="9" fill="#4a90a8"/><text dy="2">SN</text></g>
<g id="n-RN" class="n" transform="rotate(99.18)translate(448.5)rotate(-99.18)"><circle r="9" fill="#4a90a8"/><text dy="2">RN</text></g>
<g id="n-IC" class="n" transform="rotate(101.94)translate(448.5)rotate(-101.94)"><circle r="9" fill="#5098b8"/><text dy="2">IC</text></g>
<g id="n-SC" class="n" transform="rotate(104.71)translate(448.5)rotate(-104.71)"><circle r="9" fill="#5a9cbc"/><text dy="2">SC</text></g>
<g id="n-PTR" class="n" transform="rotate(107.48)translate(448.5)rotate(-107.48)"><circle r="9" fill="#88b8cc"/><text dy="2">PTR</text></g>
<g id="n-Aq" class="n k" transform="rotate(110.25)translate(448.5)rotate(-110.25)"><circle r="9"/><text dy="2">Aq</text></g>
<g id="n-BL" class="n" transform="rotate(113.02)translate(448.5)rotate(-113.02)"><circle r="9" fill="#6aaa30"/><text dy="2">BL</text></g>
<g id="n-La" class="n" transform="rotate(115.79)translate(448.5)rotate(-115.79)"><circle r="9" fill="#98cc68"/><text dy="2">La</text></g>
<g id="n-BM" class="n" transform="rotate(118.56)translate(448.5)rotate(-118.56)"><circle r="9" fill="#90c858"/><text dy="2">BM</text></g>
<g id="n-CoA" class="n" transform="rotate(121.33)translate(448.5)rotate(-121.33)"><circle r="9" fill="#6aaa30"/><text dy="2">CoA</text></g>
<g id="n-CoP" class="n" transform="rotate(124.10)translate(448.5)rotate(-124.10)"><circle r="9" fill="#78b840"/><text dy="2">CoP</text></g>
<g id="n-Me" class="n" transform="rotate(126.87)translate(448.5)rotate(-126.87)"><circle r="9" fill="#88c050"/><text dy="2">Me</text></g>
<g id="n-AHA" class="n" transform="rotate(129.64)translate(448.5)rotate(-129.64)"><circle r="9" fill="#6aaa30"/><text dy="2">AHA</text></g>
<g id="n-AAA" class="n" transform="rotate(132.41)translate(448.5)rotate(-132.41)"><circle r="9" fill="#b0d890"/><text dy="2">AAA</text></g>
<g id="n-CEN" class="n" transform="rotate(135.18)translate(448.5)rotate(-135.18)"><circle r="9" fill="#a0d080"/><text dy="2">CEN</text></g>
<g id="n-CaT" class="n" transform="rotate(137.94)translate(448.5)rotate(-137.94)"><circle r="9" fill="#788848"/><text dy="2">CaT</text></g>
<g id="n-CaB" class="n" transform="rotate(140.71)translate(448.5)rotate(-140.71)"><circle r="9" fill="#7a8a48"/><text dy="2">CaB</text></g>
<g id="n-CaH" class="n" transform="rotate(143.48)translate(448.5)rotate(-143.48)"><circle r="9" fill="#7a8a48"/><text dy="2">CaH</text></g>
<g id="n-PuPV" class="n" transform="rotate(146.25)translate(448.5)rotate(-146.25)"><circle r="9" fill="#889858"/><text dy="2">PuPV</text></g>
<g id="n-NAC" class="n" transform="rotate(149.02)translate(448.5)rotate(-149.02)"><circle r="9" fill="#7a8850"/><text dy="2">NAC</text></g>
<g id="n-GPe" class="n" transform="rotate(151.79)translate(448.5)rotate(-151.79)"><circle r="9" fill="#d0e0b0"/><text dy="2">GPe</text></g>
<g id="n-GPi" class="n" transform="rotate(154.56)translate(448.5)rotate(-154.56)"><circle r="9" fill="#c8d8a8"/><text dy="2">GPi</text></g>
<g id="n-BNST" class="n" transform="rotate(157.33)translate(448.5)rotate(-157.33)"><circle r="9" fill="#98c898"/><text dy="2">BNST</text></g>
<g id="n-SEP" class="n" transform="rotate(160.10)translate(448.5)rotate(-160.10)"><circle r="9" fill="#b8b870"/><text dy="2">SEP</text></g>
<g id="n-Cla" class="n" transform="rotate(162.87)translate(448.5)rotate(-162.87)"><circle r="9" fill="#90d4c4"/><text dy="2">Cla</text></g>
<g id="n-TI" class="n" transform="rotate(165.64)translate(448.5)rotate(-165.64)"><circle r="9" fill="#a08060"/><text dy="2">TI</text></g>
<g id="n-FI" class="n" transform="rotate(168.41)translate(448.5)rotate(-168.41)"><circle r="9" fill="#b09078"/><text dy="2">FI</text></g>
<g id="n-Pir" class="n" transform="rotate(171.18)translate(448.5)rotate(-171.18)"><circle r="9" fill="#9880c0"/><text dy="2">Pir</text></g>
<g id="n-AON" class="n" transform="rotate(173.94)translate(448.5)rotate(-173.94)"><circle r="9" fill="#9888c0"/><text dy="2">AON</text></g>
<g id="n-OB" class="n" transform="rotate(176.71)translate(448.5)rotate(-176.71)"><circle r="9" fill="#c8c4e0"/><text dy="2">OB</text></g>
<g id="n-DLG" class="n" transform="rotate(179.48)translate(448.5)rotate(-179.48)"><circle r="9" fill="#6a1a5a"/><text dy="2">DLG</text></g>
<g id="n-MG" class="n" transform="rotate(182.25)translate(448.5)rotate(-182.25)"><circle r="9" fill="#a050a0"/><text dy="2">MG</text></g>
<g id="n-Pul" class="n" transform="rotate(185.02)translate(448.5)rotate(-185.02)"><circle r="9" fill="#9a4090"/><text dy="2">Pul</text></g>
<g id="n-LP" class="n" transform="rotate(187.79)translate(448.5)rotate(-187.79)"><circle r="9" fill="#9a40a0"/><text dy="2">LP</text></g>
<g id="n-VPL" class="n" transform="rotate(190.56)translate(448.5)rotate(-190.56)"><circle r="9" fill="#8a2888"/><text dy="2">VPL</text></g>
<g id="n-VPM" class="n" transform="rotate(193.33)translate(448.5)rotate(-193.33)"><circle r="9" fill="#8a2880"/><text dy="2">VPM</text></g>
<g id="n-VL" class="n" transform="rotate(196.10)translate(448.5)rotate(-196.10)"><circle r="9" fill="#9040a0"/><text dy="2">VL</text></g>
<g id="n-VA" class="n" transform="rotate(198.87)translate(448.5)rotate(-198.87)"><circle r="9" fill="#8a3090"/><text dy="2">VA</text></g>
<g id="n-LD" class="n" transform="rotate(201.64)translate(448.5)rotate(-201.64)"><circle r="9" fill="#a050a0"/><text dy="2">LD</text></g>
<g id="n-CM" class="n" transform="rotate(204.41)translate(448.5)rotate(-204.41)"><circle r="9" fill="#a050a0"/><text dy="2">CM</text></g>
<g id="n-PT" class="n" transform="rotate(207.18)translate(448.5)rotate(-207.18)"><circle r="9" fill="#a050a0"/><text dy="2">PT</text></g>
<g id="n-MD" class="n" transform="rotate(209.94)translate(448.5)rotate(-209.94)"><circle r="9" fill="#a050a0"/><text dy="2">MD</text></g>
<g id="n-Re" class="n" transform="rotate(212.71)translate(448.5)rotate(-212.71)"><circle r="9" fill="#802878"/><text dy="2">Re</text></g>
<g id="n-MIN" class="n" transform="rotate(215.48)translate(448.5)rotate(-215.48)"><circle r="9" fill="#8a3090"/><text dy="2">MIN</text></g>
<g id="n-ZI" class="n" transform="rotate(218.25)translate(448.5)rotate(-218.25)"><circle r="9" fill="#a050a0"/><text dy="2">ZI</text></g>
<g id="n-HN" class="n" transform="rotate(221.02)translate(448.5)rotate(-221.02)"><circle r="9" fill="#a060a8"/><text dy="2">HN</text></g>
<g id="n-Pin" class="n" transform="rotate(223.79)translate(448.5)rotate(-223.79)"><circle r="9" fill="#6a2060"/><text dy="2">Pin</text></g>
<g id="n-HTHmi" class="n" transform="rotate(226.56)translate(448.5)rotate(-226.56)"><circle r="9" fill="#b06090"/><text dy="2">HTHmi</text></g>
<g id="n-HTHtu" class="n" transform="rotate(229.33)translate(448.5)rotate(-229.33)"><circle r="9" fill="#d090b8"/><text dy="2">HTHtu</text></g>
<g id="n-HTHsc" class="n" transform="rotate(232.10)translate(448.5)rotate(-232.10)"><circle r="9" fill="#c070a0"/><text dy="2">HTHsc</text></g>
<g id="n-HTHpo" class="n" transform="rotate(234.87)translate(448.5)rotate(-234.87)"><circle r="9" fill="#d898c0"/><text dy="2">HTHpo</text></g>
<g id="n-STH" class="n" transform="rotate(237.64)translate(448.5)rotate(-237.64)"><circle r="9" fill="#a888c0"/><text dy="2">STH</text></g>
<g id="n-PRG" class="n" transform="rotate(240.41)translate(448.5)rotate(-240.41)"><circle r="9" fill="#d04080"/><text dy="2">PRG</text></g>
<g id="n-MTG" class="n" transform="rotate(243.18)translate(448.5)rotate(-243.18)"><circle r="9" fill="#c83070"/><text dy="2">MTG</text></g>
<g id="n-STG" class="n" transform="rotate(245.94)translate(448.5)rotate(-245.94)"><circle r="9" fill="#d04880"/><text dy="2">STG</text></g>
<g id="n-ITG" class="n" transform="rotate(248.71)translate(448.5)rotate(-248.71)"><circle r="9" fill="#c83878"/><text dy="2">ITG</text></g>
<g id="n-PLT" class="n" transform="rotate(251.48)translate(448.5)rotate(-251.48)"><circle r="9" fill="#d05088"/><text dy="2">PLT</text></g>
<g id="n-TTG" class="n" transform="rotate(254.25)translate(448.5)rotate(-254.25)"><circle r="9" fill="#d05890"/><text dy="2">TTG</text></g>
<g id="n-PLP" class="n" transform="rotate(257.02)translate(448.5)rotate(-257.02)"><circle r="9" fill="#d04880"/><text dy="2">PLP</text></g>
<g id="n-TP" class="n" transform="rotate(259.79)translate(448.5)rotate(-259.79)"><circle r="9" fill="#c03070"/><text dy="2">TP</text></g>
</g>
</g>
</svg>
